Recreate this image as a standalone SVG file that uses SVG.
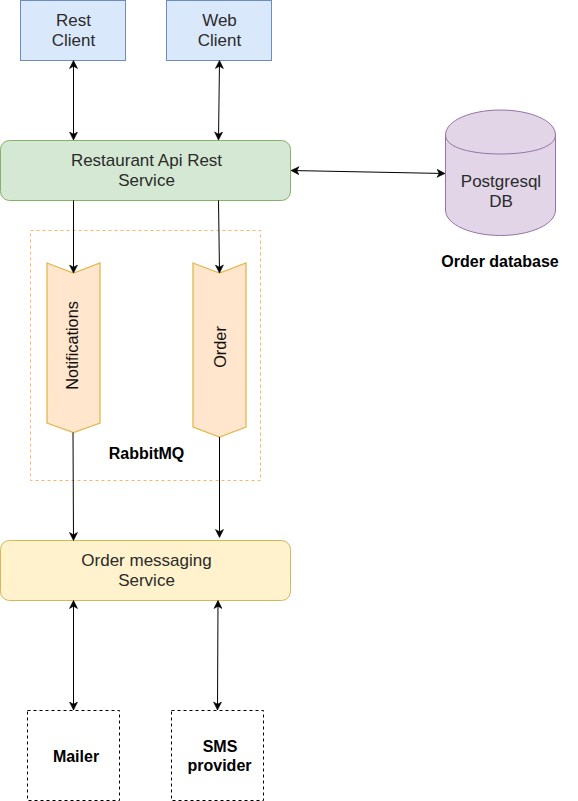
<svg xmlns="http://www.w3.org/2000/svg" width="578" height="801" viewBox="0 0 578 801">
<style>
text{font-family:"Liberation Sans",Arial,sans-serif;font-size:17px;fill:#2b2b2b;text-anchor:middle}
.b{font-weight:bold;font-size:16px;fill:#000}
.r{font-size:16.300px;fill:#111}
.c{fill:none;stroke:#000;stroke-width:1}
.q{fill:#ffe6cc;stroke:#e3b74f;stroke-width:1.3}
</style>
<defs>
<marker id="a" viewBox="0 0 9 9" refX="8" refY="4.500" markerWidth="9" markerHeight="9" orient="auto-start-reverse" markerUnits="userSpaceOnUse"><path d="M0.500 0.500L8.500 4.500L0.500 8.500L2.800 4.500Z" fill="#000" stroke="#000" stroke-width="0.6"/></marker>
</defs>
<rect width="578" height="801" fill="#fff"/>
<g id="rabbitmq">
<rect x="30.500" y="230.500" width="230" height="250" fill="none" stroke="#ffb366" stroke-width="1" stroke-dasharray="3 3"/>
<text class="b" x="146.500" y="459">RabbitMQ</text>
</g>
<g id="rest-client"><rect x="20.500" y="0.500" width="105" height="60" fill="#dae8fc" stroke="#6c8ebf"/><text x="73.500" y="26">Rest</text><text x="73.500" y="46">Client</text></g>
<g id="web-client"><rect x="166.500" y="0.500" width="105" height="60" fill="#dae8fc" stroke="#6c8ebf"/><text x="219.500" y="26">Web</text><text x="219.500" y="46">Client</text></g>
<g id="api-service"><rect x="0.500" y="140.500" width="290" height="60" rx="9" fill="#d5e8d4" stroke="#82b366"/><text x="146.500" y="166">Restaurant Api Rest</text><text x="146.500" y="186">Service</text></g>
<g id="postgresql">
<path d="M445.500 135C445.500 120 472 110 500.500 110C529 110 555.500 120 555.500 135V210C555.500 225 529 235.500 500.500 235.500C472 235.500 445.500 225 445.500 210Z" fill="#e1d5e7" stroke="#9673a6"/>
<path d="M445.500 135C445.500 148 472 154 500.500 154C529 154 555.500 148 555.500 135" fill="none" stroke="#9673a6"/>
<text x="501" y="187">Postgresql</text><text x="501" y="207">DB</text>
</g>
<text class="b" x="500" y="267" id="order-database">Order database</text>
<g id="notifications"><path class="q" d="M47 263L73.500 273L100 263V423L73.500 432.500L47 423Z"/><text class="r" transform="translate(77.500 345.500) rotate(-90)">Notifications</text></g>
<g id="order"><path class="q" d="M193 263L219.500 273L246 263V427L219.500 437L193 427Z"/><text class="r" transform="translate(226 347) rotate(-90)">Order</text></g>
<g id="messaging-service"><rect x="0.500" y="540.500" width="290" height="60" rx="9" fill="#fff2cc" stroke="#d6b656"/><text x="146.500" y="566">Order messaging</text><text x="146.500" y="586">Service</text></g>
<g id="mailer"><rect x="27.500" y="710.500" width="92" height="90" fill="none" stroke="#000" stroke-dasharray="3 3"/><text class="b" x="76" y="762">Mailer</text></g>
<g id="sms-provider"><rect x="171.500" y="710.500" width="92" height="90" fill="none" stroke="#000" stroke-dasharray="3 3"/><text class="b" x="220" y="752">SMS</text><text class="b" x="219.500" y="771">provider</text></g>
<g id="connectors">
<path class="c" d="M73.500 61V139.500" marker-start="url(#a)" marker-end="url(#a)"/>
<path class="c" d="M219.500 61L218.500 139.500" marker-start="url(#a)" marker-end="url(#a)"/>
<path class="c" d="M291.500 170.500L444.500 173.500" marker-start="url(#a)" marker-end="url(#a)"/>
<path class="c" d="M73.500 200.500V272.500" marker-end="url(#a)"/>
<path class="c" d="M218.500 200.500L219.500 272.500" marker-end="url(#a)"/>
<path class="c" d="M73 432.500L73.500 540" marker-end="url(#a)"/>
<path class="c" d="M219.500 437V537" marker-end="url(#a)"/>
<path class="c" d="M73.500 601V709.500" marker-start="url(#a)" marker-end="url(#a)"/>
<path class="c" d="M218 601L217.500 709.500" marker-start="url(#a)" marker-end="url(#a)"/>
</g>
</svg>
